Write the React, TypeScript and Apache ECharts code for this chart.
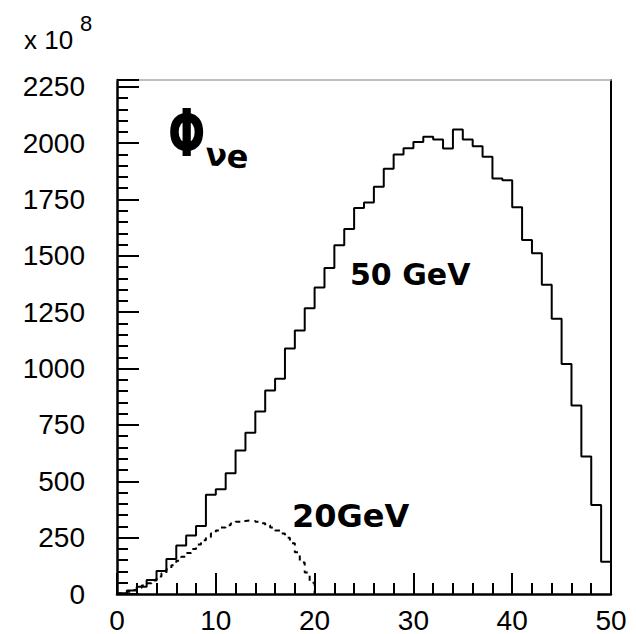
import React, { useEffect, useRef } from "react";
import * as echarts from "echarts";

// 50 GeV spectrum: bin width 1, bins starting at 0..49
const nue50 = [3, 15, 32, 62, 102, 155, 215, 259, 302, 440, 465, 536, 636, 715, 810, 903, 955, 1089, 1169, 1268, 1360, 1446, 1547, 1619, 1712, 1737, 1806, 1886, 1949, 1977, 2005, 2028, 2016, 1976, 2060, 2016, 1986, 1939, 1843, 1835, 1715, 1570, 1511, 1372, 1221, 1020, 836, 610, 395, 143];
const bin50 = 1;
// 20 GeV spectrum: bin width 0.5, bins starting at 0..19.5
const nue20 = [2, 6, 10, 18, 28, 38, 48, 60, 78, 92, 110, 128, 148, 165, 182, 200, 220, 238, 252, 268, 282, 295, 305, 313, 320, 324, 326, 324, 320, 314, 305, 295, 282, 268, 250, 225, 185, 140, 95, 50];
const bin20 = 0.5;

const xMin = 0, xMax = 50, xStep = 10;
const yMin = 0, yMax = 2280, yStep = 250, yMinorStep = 50;

const labels = { flux: "Φ", sub: "νe", e50: "50 GeV", e20: "20GeV", scale: "x 10", exp: "8" };

function histData(vals: number[], w: number) {
  const d: number[][] = vals.map((v, i) => [i * w, v]);
  d.push([vals.length * w, 0]);
  return d;
}

export default function App() {
  const ref = useRef<HTMLDivElement>(null);
  useEffect(() => {
    if (!ref.current) return;
    const chart = echarts.init(ref.current, null, { renderer: "svg" });
    const font = "Liberation Sans";
    const hand = "DejaVu Sans";
    chart.setOption({
      animation: false,
      backgroundColor: "#fff",
      grid: { left: 117, right: 25, top: 80, bottom: 40, show: false },
      xAxis: [
        {
          type: "value", min: xMin, max: xMax, interval: xStep,
          axisLine: { lineStyle: { color: "#000", width: 2.5 } },
          axisTick: { inside: true, length: 21, lineStyle: { color: "#000", width: 2 } },
          minorTick: { show: true, splitNumber: 5, length: 11, lineStyle: { color: "#000", width: 2 } },
          splitLine: { show: false },
          axisLabel: { color: "#000", fontSize: 28, fontFamily: font, margin: 12 },
        },
        {
          type: "value", min: xMin, max: xMax, position: "top",
          axisLine: { onZero: false, lineStyle: { color: "#aaa", width: 1.5 } },
          axisTick: { show: false }, axisLabel: { show: false }, splitLine: { show: false },
        },
      ],
      yAxis: [
        {
          type: "value", min: yMin, max: yMax, interval: yMinorStep,
          axisLine: { lineStyle: { color: "#000", width: 2.5 } },
          axisTick: { inside: true, length: 11, lineStyle: { color: "#000", width: 2 } },
          splitLine: { show: false },
          axisLabel: {
            color: "#000", fontSize: 28, fontFamily: font, margin: 32,
            formatter: (v: number) => (v % yStep === 0 ? String(v) : ""),
          },
        },
        {
          type: "value", min: yMin, max: yMax, interval: yStep, position: "left",
          axisLine: { show: false },
          axisTick: { inside: true, length: 22, lineStyle: { color: "#000", width: 2 } },
          splitLine: { show: false },
          axisLabel: { show: false },
        },
        {
          type: "value", min: yMin, max: yMax, position: "right",
          axisLine: { show: true, onZero: false, lineStyle: { color: "#000", width: 2 } },
          axisTick: { show: false }, axisLabel: { show: false }, splitLine: { show: false },
        },
      ],
      graphic: [
        { type: "text", left: 24, top: 27, style: { text: labels.scale, fontSize: 26, fontFamily: font, fill: "#000" } },
        { type: "text", left: 80, top: 12, style: { text: labels.exp, fontSize: 22, fontFamily: font, fill: "#000" } },
        { type: "text", x: 168, y: 100, scaleY: 1.5, style: { text: labels.flux, fontSize: 44, fontFamily: hand, fontWeight: "bold", fill: "#000" } },
        { type: "text", left: 204, top: 138, rotation: -0.08, style: { text: labels.sub, fontSize: 32, fontFamily: hand, fontWeight: "bold", fill: "#000" } },
        { type: "text", left: 350, top: 259, style: { text: labels.e50, fontSize: 30, fontFamily: hand, fontWeight: "bold", fill: "#000" } },
        { type: "text", left: 292, top: 500, style: { text: labels.e20, fontSize: 32, fontFamily: hand, fontWeight: "bold", fill: "#000" } },
      ],
      series: [
        {
          type: "line", step: "end", symbol: "none", xAxisIndex: 0, yAxisIndex: 0,
          data: histData(nue50, bin50),
          lineStyle: { color: "#000", width: 2 },
        },
        {
          type: "line", step: "end", symbol: "none", xAxisIndex: 0, yAxisIndex: 0,
          data: histData(nue20, bin20),
          lineStyle: { color: "#000", width: 2, type: [5, 5] },
        },
      ],
    });
    return () => chart.dispose();
  }, []);
  return <div ref={ref} style={{ position: "fixed", left: 0, top: 0, width: 636, height: 634 }} />;
}
